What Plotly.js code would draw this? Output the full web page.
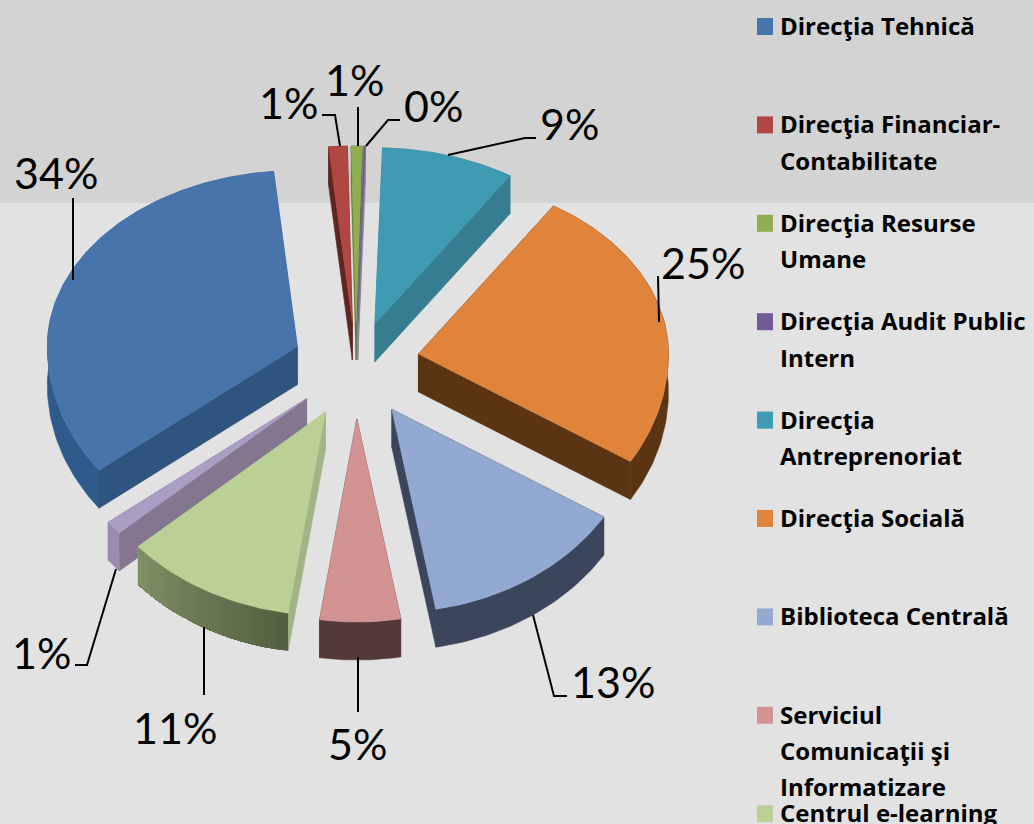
<!DOCTYPE html>
<html><head><meta charset="utf-8">
<script src="https://cdn.plot.ly/plotly-3.0.1.min.js"></script>
<style>html,body{margin:0;padding:0;background:#e2e2e2;overflow:hidden}#c{width:1034px;height:824px}</style>
</head><body><div id="c"></div>
<script>
// ---- data ----
const sliceNames = ['Direcţia Tehnică','Direcţia Financiar-Contabilitate','Direcţia Resurse Umane','Direcţia Audit Public Intern','Direcţia Antreprenoriat','Direcţia Socială','Biblioteca Centrală','Serviciul Comunicaţii şi Informatizare','Centrul e-learning','Alte'];
const sliceValues = [33.9, 1.2, 0.7, 0.1, 8.6, 24.8, 13.3, 5.2, 11.1, 1.1];
const sliceLabels = ['34%','1%','1%','0%','9%','25%','13%','5%','11%','1%'];
const topColors  = ['#4674ab','#b04743','#8fad51','#725a94','#3f9ab3','#e0843c','#92a9d2','#d49393','#bbd095','#aa9ec4'];
const wallColors = ['#2f5480','#5e2523','#5f7436','#8a8098','#367d91','#5a3413','#3b465c','#553839','#a0b585','#85768f'];
const rimStart   = ['#2f5a8c','#5e2523','#5f7436','#8a8098','#367d91','#5a3413','#3b465c','#553839','#52603f','#9a8cb0'];
const rimEnd     = ['#2f5a8c','#5e2523','#5f7436','#8a8098','#367d91','#5a3413','#3b465c','#553839','#7f8f66','#9a8cb0'];
const legendLines = [['Direcţia Tehnică'],['Direcţia Financiar-','Contabilitate'],['Direcţia Resurse','Umane'],['Direcţia Audit Public','Intern'],['Direcţia','Antreprenoriat'],['Direcţia Socială'],['Biblioteca Centrală'],['Serviciul','Comunicaţii şi','Informatizare'],['Centrul e-learning']];

// ---- geometry of the tilted, exploded pie ----
const G = {cx:356, cy:363, rx:250, ryTop:176, ryBot:203, exX:64, exTop:41, exBot:56, depth:38, firstAngle:232.5};
const rad = d => d*Math.PI/180;
const total = sliceValues.reduce((a,b)=>a+b,0);
const angles = []; let a0 = G.firstAngle;
sliceValues.forEach(v => { const a1 = a0 + v/total*360; angles.push([a0,a1]); a0 = a1; });

function rimPts(s, e, off){
  const n = Math.max(2, Math.ceil((e-s)/1)), pts=[];
  for(let i=0;i<=n;i++){
    const t = rad(s+(e-s)*i/n), c=Math.cos(t);
    pts.push([off[0]+G.rx*Math.sin(t), off[1]-(c>0?G.ryTop:G.ryBot)*c]);
  }
  return pts;
}
function offsetOf(s,e){
  const m = rad((s+e)/2), c=Math.cos(m);
  return [G.cx+G.exX*Math.sin(m), G.cy-(c>0?G.exTop:G.exBot)*c];
}
const poly = (pts,color) => ({type:'scatter',mode:'lines',x:pts.map(p=>p[0]),y:pts.map(p=>p[1]),
  fill:'toself',fillcolor:color,line:{color:color,width:0.6},hoverinfo:'skip',showlegend:false});
const hex = c => [1,3,5].map(i=>parseInt(c.substr(i,2),16));
const mix = (a,b,t) => {const A=hex(a),B=hex(b);return 'rgb('+A.map((v,i)=>Math.round(v+(B[i]-v)*t)).join(',')+')';};

const traces = [];
const drawOrder = [1,2,3,4,0,5,9,6,8,7];
drawOrder.forEach(i => {
  const [s,e] = angles[i], off = offsetOf(s,e), rim = rimPts(s,e,off), d = G.depth;
  const down = p => [p[0],p[1]+d];
  const wall = q => poly([off,q,down(q),down(off),off], wallColors[i]);
  traces.push(wall(rim[0])); traces.push(wall(rim[rim.length-1]));
  if(rimStart[i]===rimEnd[i]){
    traces.push(poly(rim.concat(rim.slice().reverse().map(down)), rimStart[i]));
  } else {
    // shaded rim: each strip runs to the rim's far end, so the next one paints over it without a seam
    const seg = rim.length-1;
    for(let k=0;k<seg;k++){
      const part = rim.slice(k);
      const strip = poly(part.concat(part.slice().reverse().map(down)), mix(rimStart[i],rimEnd[i],k/(seg-1)));
      strip.mode = 'none';
      traces.push(strip);
    }
  }
  const top = poly([off].concat(rim,[off]), topColors[i]);
  top.name = sliceNames[i];
  traces.push(top);
});

// leader lines
const leaders = [
  [[73,198],[73,280]],
  [[322,115],[335,115],[340,146]],
  [[358,107],[358,146]],
  [[400,120],[388,120],[366,146]],
  [[536,138],[525,138],[448,155]],
  [[658,276],[659,322]],
  [[567,696],[554,696],[533,615]],
  [[358,657],[358,712]],
  [[204,627],[204,695]],
  [[75,665],[87,665],[116,569]]
];
leaders.forEach(l => traces.push({type:'scatter',mode:'lines',x:l.map(p=>p[0]),y:l.map(p=>p[1]),
  line:{color:'#000',width:2},hoverinfo:'skip',showlegend:false}));

// labels
const labelPos = [[56,172],[288,102],[354,79],[433,105],[569,123],[703,262],[613,681],[357,743],[175,727],[41,652]];
const annotations = sliceLabels.map((t,i)=>({xref:'x',yref:'y',x:labelPos[i][0],y:labelPos[i][1],text:t,showarrow:false,
  xanchor:'center',yanchor:'middle',font:{family:'Lato, sans-serif',size:43,color:'#000'}}));

// legend
const shapes = [{type:'rect',xref:'x',yref:'y',x0:0,x1:1034,y0:0,y1:203,fillcolor:'#d3d3d3',line:{width:0},layer:'below'}];
legendLines.forEach((lines,i)=>{
  const y = 26.5 + i*98.4;
  shapes.push({type:'rect',xref:'x',yref:'y',x0:757,x1:773,y0:y-8.5,y1:y+8.5,fillcolor:topColors[i],line:{width:0},layer:'below'});
  lines.forEach((t,k)=>annotations.push({xref:'x',yref:'y',x:778,y:y+k*36.3-1,text:'<b>'+t+'</b>',showarrow:false,
    xanchor:'left',yanchor:'middle',font:{family:'"Open Sans", sans-serif',size:24,color:'#000'}}));
});

Plotly.newPlot('c',traces,{
  width:1034,height:824,margin:{l:0,r:0,t:0,b:0},paper_bgcolor:'#e2e2e2',plot_bgcolor:'rgba(0,0,0,0)',
  xaxis:{range:[0,1034],visible:false,fixedrange:true},
  yaxis:{range:[824,0],visible:false,fixedrange:true},
  showlegend:false,shapes:shapes,annotations:annotations
},{displayModeBar:false,staticPlot:true});
</script></body></html>
